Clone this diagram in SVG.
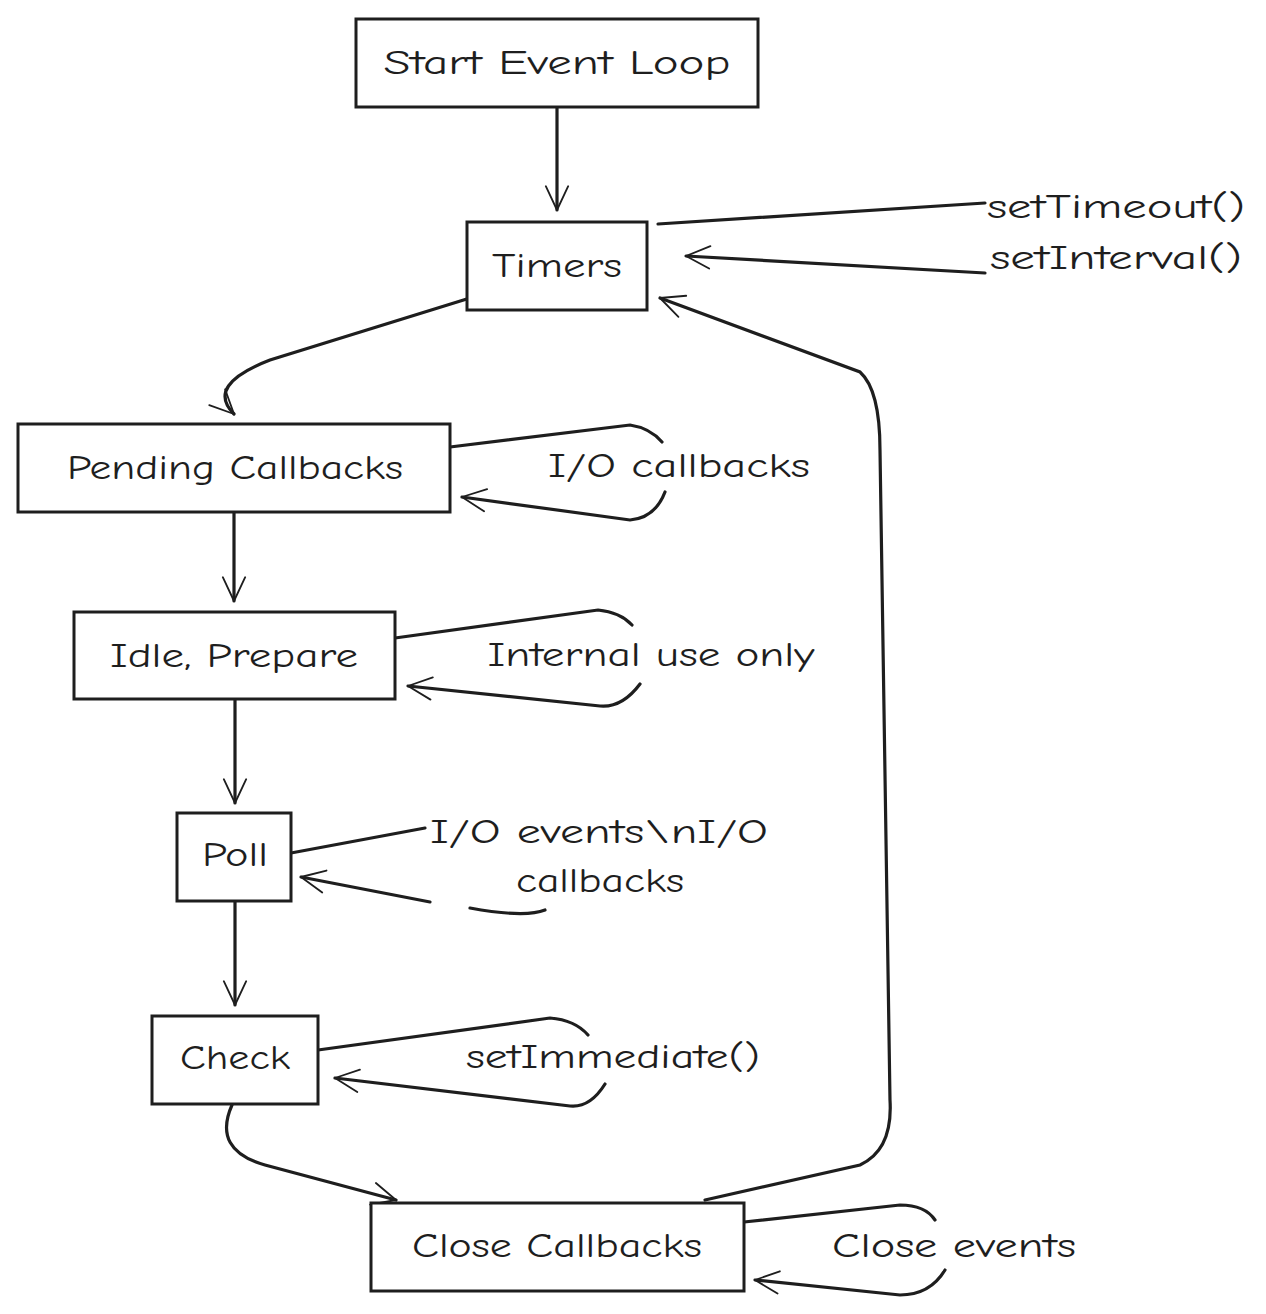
<svg xmlns="http://www.w3.org/2000/svg" width="1266" height="1314" viewBox="0 0 1266 1314">
<style>
.n{fill:#fff;stroke:#1e1e1e;stroke-width:3}
.t{font-family:"Comic Neue","Liberation Sans",sans-serif;font-size:34px;fill:#1e1e1e;text-anchor:middle;dominant-baseline:central}
.c{fill:none;stroke:#1e1e1e;stroke-width:3.2;stroke-linecap:round}
.a{marker-end:url(#ah)}
</style>
<defs>
<marker id="ah" viewBox="0 0 20 20" refX="18" refY="10" markerWidth="14" markerHeight="14" markerUnits="userSpaceOnUse" orient="auto" overflow="visible">
<path d="M-16,-6 L18,10 L-16,26" fill="none" stroke="#1e1e1e" stroke-width="2.6" stroke-linecap="round" stroke-linejoin="round"/>
</marker>
</defs>
<rect width="1266" height="1314" fill="#fff"/>
<g id="connectors">
<path class="c a" d="M557,108 L557,210"/>
<path class="c" d="M985,203 L658,224"/>
<path class="c a" d="M985,273 L686,256"/>
<path class="c a" d="M470,298 L270,360 Q205,385 234,414"/>
<path class="c" d="M450,447 L630,425 Q650,428 662,442"/>
<path class="c a" d="M665,492 Q655,518 630,520 L462,497"/>
<path class="c a" d="M234,513 L234,601"/>
<path class="c" d="M395,638 L598,610 Q620,612 632,625"/>
<path class="c a" d="M640,684 Q622,708 600,706 L408,686"/>
<path class="c a" d="M235,700 L235,803"/>
<path class="c" d="M291,853 L425,828"/>
<path class="c" d="M545,910 Q525,918 470,908"/>
<path class="c a" d="M430,902 L301,877"/>
<path class="c a" d="M235,902 L235,1005"/>
<path class="c" d="M318,1050 L550,1018 Q575,1020 588,1035"/>
<path class="c a" d="M605,1084 Q590,1108 570,1106 L335,1078"/>
<path class="c a" d="M232,1105 Q212,1150 265,1165 L396,1200"/>
<path class="c a" d="M705,1200 L860,1165 Q893,1150 890,1100 L880,450 Q880,390 860,372 L660,298"/>
<path class="c" d="M744,1222 L900,1205 Q925,1205 935,1220"/>
<path class="c a" d="M945,1270 Q930,1295 900,1295 L755,1280"/>
</g>
<g id="start"><rect class="n" x="356" y="19" width="402" height="88"/><text class="t" x="557" y="63" textLength="347" lengthAdjust="spacingAndGlyphs">Start Event Loop</text></g>
<g id="timers"><rect class="n" x="467" y="222" width="180" height="88"/><text class="t" x="557" y="266" textLength="130" lengthAdjust="spacingAndGlyphs">Timers</text></g>
<g id="pending"><rect class="n" x="18" y="424" width="432" height="88"/><text class="t" x="235" y="468" textLength="336" lengthAdjust="spacingAndGlyphs">Pending Callbacks</text></g>
<g id="idle"><rect class="n" x="74" y="612" width="321" height="87"/><text class="t" x="234" y="656" textLength="248" lengthAdjust="spacingAndGlyphs">Idle, Prepare</text></g>
<g id="poll"><rect class="n" x="177" y="813" width="114" height="88"/><text class="t" x="235" y="855" textLength="66" lengthAdjust="spacingAndGlyphs">Poll</text></g>
<g id="check"><rect class="n" x="152" y="1016" width="166" height="88"/><text class="t" x="235" y="1058" textLength="110" lengthAdjust="spacingAndGlyphs">Check</text></g>
<g id="close"><rect class="n" x="371" y="1203" width="373" height="88"/><text class="t" x="557" y="1246" textLength="290" lengthAdjust="spacingAndGlyphs">Close Callbacks</text></g>
<g id="labels">
<text class="t" x="1116" y="207" textLength="258" lengthAdjust="spacingAndGlyphs">setTimeout()</text>
<text class="t" x="1116" y="258" textLength="252" lengthAdjust="spacingAndGlyphs">setInterval()</text>
<text class="t" x="679" y="466" textLength="262" lengthAdjust="spacingAndGlyphs">I/O callbacks</text>
<text class="t" x="651" y="655" textLength="327" lengthAdjust="spacingAndGlyphs">Internal use only</text>
<text class="t" x="599" y="832" textLength="338" lengthAdjust="spacingAndGlyphs">I/O events\nI/O</text>
<text class="t" x="600" y="881" textLength="168" lengthAdjust="spacingAndGlyphs">callbacks</text>
<text class="t" x="613" y="1057" textLength="294" lengthAdjust="spacingAndGlyphs">setImmediate()</text>
<text class="t" x="954" y="1246" textLength="244" lengthAdjust="spacingAndGlyphs">Close events</text>
</g>
</svg>
